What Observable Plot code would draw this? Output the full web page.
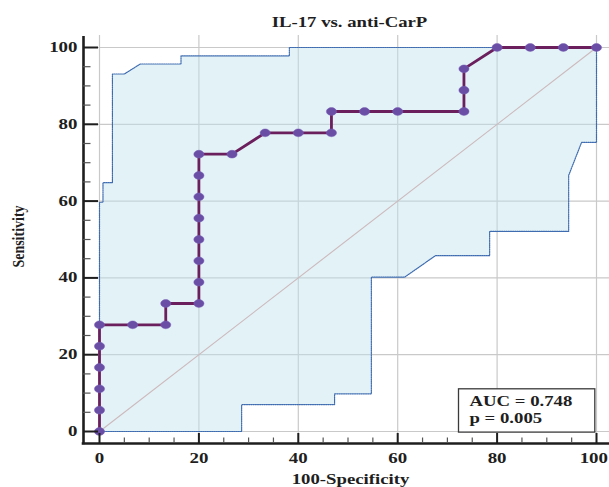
<!DOCTYPE html>
<html>
<head>
<meta charset="utf-8">
<script src="https://cdn.jsdelivr.net/npm/d3@7"></script>
<script src="https://cdn.jsdelivr.net/npm/@observablehq/plot@0.6"></script>
<style>
  html, body { margin: 0; padding: 0; background: #fff; }
  #chart svg { display: block; }
</style>
</head>
<body>
<div id="chart"></div>
<script>
// ---- data ----
const titleText = "IL-17 vs. anti-CarP";
const xLabel = "100-Specificity";
const yLabel = "Sensitivity";
const aucText = "AUC = 0.748";
const pText = "p = 0.005";

const majorTicks = [0, 20, 40, 60, 80, 100];
const minorTicks = [5, 10, 15, 25, 30, 35, 45, 50, 55, 65, 70, 75, 85, 90, 95];

// ROC curve (100-Specificity, Sensitivity)
const rocX = [0, 0, 0, 0, 0, 0, 6.67, 13.33, 13.33, 20, 20, 20, 20, 20, 20, 20, 20, 26.67, 33.33, 40, 46.67, 46.67, 53.33, 60, 73.33, 73.33, 73.33, 80, 86.67, 93.33, 100];
const rocY = [0, 5.56, 11.11, 16.67, 22.22, 27.78, 27.78, 27.78, 33.33, 33.33, 38.89, 44.44, 50, 55.56, 61.11, 66.67, 72.22, 72.22, 77.78, 77.78, 77.78, 83.33, 83.33, 83.33, 83.33, 88.89, 94.44, 100, 100, 100, 100];

// 95% confidence bounds
const upperX = [0, 0, 0.7, 0.7, 2.6, 2.6, 5, 8.2, 16.4, 16.4, 38.2, 38.2, 100];
const upperY = [0, 59.7, 59.7, 64.8, 64.8, 93.1, 93.1, 95.7, 95.7, 97.8, 97.8, 100, 100];
const lowerX = [0, 28.6, 28.6, 47.3, 47.3, 54.7, 54.7, 61.4, 67.6, 78.5, 78.5, 94.4, 94.4, 97, 100, 100];
const lowerY = [0, 0, 7, 7, 9.8, 9.8, 40.2, 40.2, 45.8, 45.8, 52.1, 52.1, 66.7, 75.3, 75.3, 100];

// reference diagonal
const diagX = [0, 100];
const diagY = [0, 100];

// ---- tables built from the arrays ----
const roc = rocX.map((x, i) => ({x, y: rocY[i]}));
const upper = upperX.map((x, i) => ({x, y: upperY[i]}));
const lower = lowerX.map((x, i) => ({x, y: lowerY[i]}));
const band = upper.concat(lower.slice().reverse());
const diag = diagX.map((x, i) => ({x, y: diagY[i]}));

const serif = "'Liberation Serif', 'Times New Roman', Times, serif";
const ink = "#1e1e1e";
const gridColor = "#c9c9c9";

// ellipse symbol (dots are wider than tall)
const ellipse = {
  draw(ctx, size) {
    const r = Math.sqrt(size / Math.PI);
    const rx = r * 1.3, ry = r;
    const kx = rx * 0.5523, ky = ry * 0.5523;
    ctx.moveTo(rx, 0);
    ctx.bezierCurveTo(rx, ky, kx, ry, 0, ry);
    ctx.bezierCurveTo(-kx, ry, -rx, ky, -rx, 0);
    ctx.bezierCurveTo(-rx, -ky, -kx, -ry, 0, -ry);
    ctx.bezierCurveTo(kx, -ry, rx, -ky, rx, 0);
    ctx.closePath();
  }
};

const W = 609, H = 487;
const mL = 99, mR = 13, mT = 47, mB = 56;
const fw = W - mL - mR, fh = H - mT - mB;

const chart = Plot.plot({
  width: W,
  height: H,
  marginLeft: mL,
  marginRight: mR,
  marginTop: mT,
  marginBottom: mB,
  style: {background: "white", overflow: "visible"},
  x: {domain: [0, 100], axis: null},
  y: {domain: [0, 100], axis: null},
  marks: [
    // grid
    Plot.ruleX(majorTicks, {x: d => d, insetTop: -12, insetBottom: -12, stroke: gridColor, strokeWidth: 1.2}),
    Plot.ruleY(majorTicks, {y: d => d, insetLeft: -16, insetRight: -mR, stroke: gridColor, strokeWidth: 1.2}),
    // confidence band fill
    Plot.line(band, {x: "x", y: "y", fill: "#bfe3ee", fillOpacity: 0.45, stroke: "none"}),
    // band boundaries (dotted)
    Plot.line(upper, {x: "x", y: "y", stroke: "#3f6cb0", strokeWidth: 1.2, strokeDasharray: "1.2,1"}),
    Plot.line(lower, {x: "x", y: "y", stroke: "#3f6cb0", strokeWidth: 1.2, strokeDasharray: "1.2,1"}),
    // diagonal
    Plot.line(diag, {x: "x", y: "y", stroke: "#cdb9bc", strokeWidth: 1.1}),
    // ROC curve
    Plot.line(roc, {x: "x", y: "y", stroke: "#6b1f5d", strokeWidth: 2.8}),
    Plot.dot(roc, {x: "x", y: "y", r: 3.9, symbol: ellipse, fill: "#6a4ea6", stroke: "#7a5fb6", strokeWidth: 0.5}),
    // axis lines
    Plot.ruleX([0], {dx: -16, insetTop: -11, insetBottom: -13.3, stroke: ink, strokeWidth: 2.6}),
    Plot.ruleY([0], {dy: 12, insetLeft: -17.3, insetRight: -mR, stroke: ink, strokeWidth: 2.6}),
    // y ticks (inward)
    Plot.ruleY(majorTicks, {y: d => d, dx: -16, insetRight: fw - 15, stroke: ink, strokeWidth: 2}),
    Plot.ruleY(minorTicks, {y: d => d, dx: -16, insetRight: fw - 7.5, stroke: "#555", strokeWidth: 1.2}),
    // x ticks (inward)
    Plot.ruleX(majorTicks, {x: d => d, dy: 12, insetTop: fh - 10, stroke: ink, strokeWidth: 2}),
    Plot.ruleX(minorTicks, {x: d => d, dy: 12, insetTop: fh - 5.5, stroke: "#555", strokeWidth: 1.2}),
    // tick labels
    Plot.text(majorTicks, {x: d => d, text: d => String(d), frameAnchor: "bottom", dy: 31, lineAnchor: "bottom", textAnchor: "middle", fontFamily: serif, fontWeight: "bold", fontSize: 14, fill: ink}),
    Plot.text(majorTicks, {y: d => d, text: d => String(d), frameAnchor: "left", dx: -22, lineAnchor: "middle", textAnchor: "end", fontFamily: serif, fontWeight: "bold", fontSize: 14, fill: ink}),
    // axis titles
    Plot.text([xLabel], {text: d => d, frameAnchor: "bottom", dx: 2.5, dy: 52, lineAnchor: "bottom", textAnchor: "middle", fontFamily: serif, fontWeight: "bold", fontSize: 15, fill: ink}),
    Plot.text([yLabel], {text: d => d, frameAnchor: "left", dx: -81, dy: -3, rotate: -90, lineAnchor: "middle", textAnchor: "middle", fontFamily: serif, fontWeight: "bold", fontSize: 14, fill: ink}),
    // title
    Plot.text([titleText], {text: d => d, frameAnchor: "top", dx: 1.5, dy: -20.3, lineAnchor: "bottom", textAnchor: "middle", fontFamily: serif, fontWeight: "bold", fontSize: 15, fill: ink}),
    // AUC box
    Plot.frame({insetLeft: 359, insetRight: 1.7, insetTop: 341.3, insetBottom: -0.6, fill: "white", stroke: "#3a3a3a", strokeWidth: 1.3}),
    Plot.text([aucText], {text: d => d, frameAnchor: "bottom-right", dx: -127, dy: -25.3, lineAnchor: "bottom", textAnchor: "start", fontFamily: serif, fontWeight: "bold", fontSize: 15, fill: ink}),
    Plot.text([pText], {text: d => d, frameAnchor: "bottom-right", dx: -127, dy: -8.3, lineAnchor: "bottom", textAnchor: "start", fontFamily: serif, fontWeight: "bold", fontSize: 15, fill: ink})
  ]
});

document.getElementById("chart").appendChild(chart);

// The reference's lettering is horizontally stretched; widen each label around its anchor.
chart.querySelectorAll("text").forEach(t => {
  let tr = t.getAttribute("transform");
  if (!tr) {
    const x = t.getAttribute("x") || 0;
    tr = `translate(${x},0)`;
    t.setAttribute("x", 0);
  }
  const rotated = /rotate/.test(tr);
  const isTick = /^\d+$/.test(t.textContent.trim());
  const s = rotated ? "scale(1,1.2)" : isTick ? "scale(1.35,1)" : "scale(1.25,1)";
  t.setAttribute("transform", tr + " " + s);
  // keep labels inside the picture
  const svgBox = chart.getBoundingClientRect();
  const b = t.getBoundingClientRect();
  const over = b.right - (svgBox.left + W - 1);
  if (over > 0) t.setAttribute("transform", `translate(${-over},0) ` + t.getAttribute("transform"));
});
</script>
</body>
</html>
